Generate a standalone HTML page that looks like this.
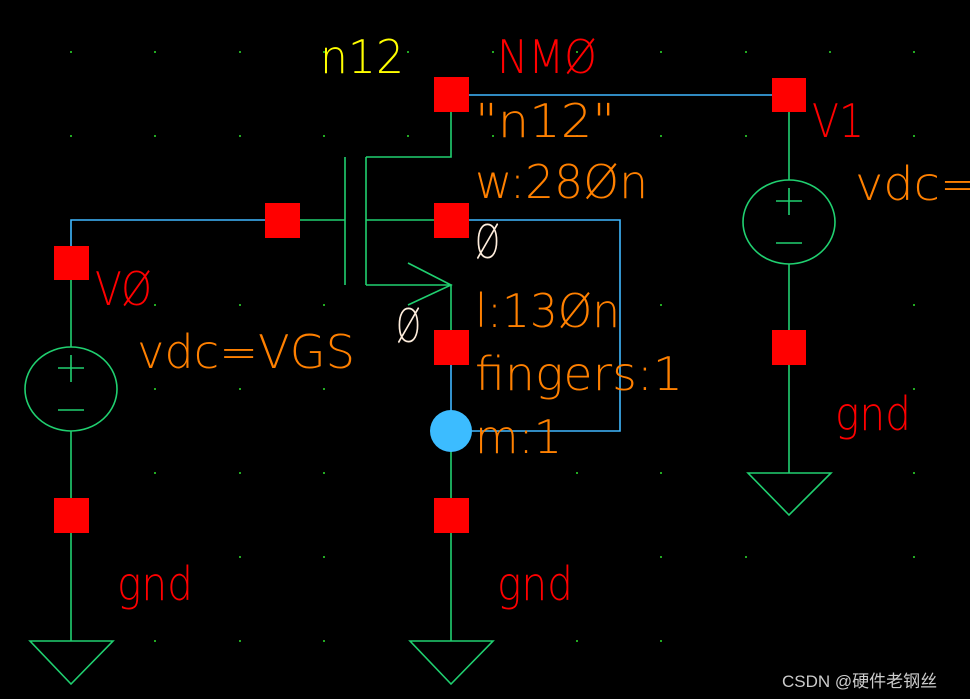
<!DOCTYPE html>
<html><head><style>html,body{margin:0;padding:0;background:#000;}svg{display:block}</style></head>
<body>
<svg width="970" height="699" viewBox="0 0 970 699" xmlns="http://www.w3.org/2000/svg">
<rect width="970" height="699" fill="#000"/>
<g fill="#2a2">
<rect x="70" y="51" width="2" height="2"/><rect x="154" y="51" width="2" height="2"/><rect x="239" y="51" width="2" height="2"/><rect x="323" y="51" width="2" height="2"/><rect x="407" y="51" width="2" height="2"/><rect x="492" y="51" width="2" height="2"/><rect x="576" y="51" width="2" height="2"/><rect x="660" y="51" width="2" height="2"/><rect x="745" y="51" width="2" height="2"/><rect x="829" y="51" width="2" height="2"/><rect x="913" y="51" width="2" height="2"/>
<rect x="70" y="135" width="2" height="2"/><rect x="154" y="135" width="2" height="2"/><rect x="239" y="135" width="2" height="2"/><rect x="323" y="135" width="2" height="2"/><rect x="407" y="135" width="2" height="2"/><rect x="492" y="135" width="2" height="2"/><rect x="576" y="135" width="2" height="2"/><rect x="660" y="135" width="2" height="2"/><rect x="745" y="135" width="2" height="2"/><rect x="913" y="135" width="2" height="2"/>
<rect x="154" y="304" width="2" height="2"/><rect x="239" y="304" width="2" height="2"/><rect x="323" y="304" width="2" height="2"/><rect x="660" y="304" width="2" height="2"/><rect x="913" y="304" width="2" height="2"/>
<rect x="154" y="388" width="2" height="2"/><rect x="239" y="388" width="2" height="2"/><rect x="323" y="388" width="2" height="2"/><rect x="660" y="388" width="2" height="2"/><rect x="913" y="388" width="2" height="2"/>
<rect x="154" y="472" width="2" height="2"/><rect x="239" y="472" width="2" height="2"/><rect x="323" y="472" width="2" height="2"/><rect x="576" y="472" width="2" height="2"/><rect x="660" y="472" width="2" height="2"/><rect x="913" y="472" width="2" height="2"/>
<rect x="239" y="556" width="2" height="2"/><rect x="323" y="556" width="2" height="2"/><rect x="660" y="556" width="2" height="2"/><rect x="745" y="556" width="2" height="2"/><rect x="913" y="556" width="2" height="2"/>
<rect x="154" y="640" width="2" height="2"/><rect x="239" y="640" width="2" height="2"/><rect x="323" y="640" width="2" height="2"/><rect x="576" y="640" width="2" height="2"/><rect x="660" y="640" width="2" height="2"/>
</g>
<g fill="none" stroke-width="1.6">
<g stroke="#40b8ff">
<path d="M71 246 V220 H265"/>
<path d="M469 95 H772"/>
<path d="M469 220 H620 V431 H451"/>
<path d="M451 365 V431"/>
</g>
<g stroke="#20d070">
<path d="M300 220 H345"/>
<path d="M345 157 V285"/>
<path d="M366 157 V285"/>
<path d="M366 157 H451 V112"/>
<path d="M366 220 H434"/>
<path d="M366 285 H451 V330"/>
<path d="M408 263 L451 285 L408 305"/>
<path d="M451 451 V498 M451 533 V641"/>
<path d="M410 641 H493 L451 684 Z"/>
<path d="M71 280 V347 M71 431 V498 M71 533 V641"/>
<ellipse cx="71" cy="389" rx="46" ry="42"/>
<path d="M58 368 H84 M71 355 V382 M58 410 H84"/>
<path d="M30 641 H113 L71 684 Z"/>
<path d="M789 112 V180 M789 264 V473"/>
<ellipse cx="789" cy="222" rx="46" ry="42"/>
<path d="M776 201 H802 M789 188 V215 M776 243 H802"/>
<path d="M748 473 H831 L789 515 Z"/>
</g>
</g>
<g fill="#ff0000">
<rect x="54" y="246" width="35" height="34"/>
<rect x="265" y="203" width="35" height="35"/>
<rect x="434" y="77" width="35" height="35"/>
<rect x="434" y="203" width="35" height="35"/>
<rect x="434" y="330" width="35" height="35"/>
<rect x="434" y="498" width="35" height="35"/>
<rect x="54" y="498" width="35" height="35"/>
<rect x="772" y="78" width="34" height="34"/>
<rect x="772" y="330" width="34" height="35"/>
</g>
<circle cx="451" cy="431" r="21" fill="#3cbcff"/>
<g font-family="DejaVu Sans ExtraLight, DejaVu Sans, Liberation Sans, sans-serif" font-size="46" font-weight="200">
<text x="320" y="73" fill="#ffff00" textLength="84" lengthAdjust="spacingAndGlyphs">n12</text>
<text x="497" y="73" fill="#ff0000" textLength="100" lengthAdjust="spacingAndGlyphs">NMØ</text>
<text x="475" y="137" fill="#ff8000" textLength="140" lengthAdjust="spacingAndGlyphs">"n12"</text>
<text x="475" y="198" fill="#ff8000" textLength="173" lengthAdjust="spacingAndGlyphs">w:28Øn</text>
<text x="475" y="258" fill="#ffeedd" textLength="25" lengthAdjust="spacingAndGlyphs">Ø</text>
<text x="396" y="342" fill="#ffeedd" textLength="25" lengthAdjust="spacingAndGlyphs">Ø</text>
<text x="475" y="327" fill="#ff8000" textLength="145" lengthAdjust="spacingAndGlyphs">l:13Øn</text>
<text x="475" y="390" fill="#ff8000" textLength="208" lengthAdjust="spacingAndGlyphs">fingers:1</text>
<text x="475" y="453" fill="#ff8000" textLength="87" lengthAdjust="spacingAndGlyphs">m:1</text>
<text x="95" y="305" fill="#ff0000" textLength="57" lengthAdjust="spacingAndGlyphs">VØ</text>
<text x="137" y="368" fill="#ff8000" textLength="218" lengthAdjust="spacingAndGlyphs">vdc=VGS</text>
<text x="812" y="137" fill="#ff0000" textLength="52" lengthAdjust="spacingAndGlyphs">V1</text>
<text x="855" y="200" fill="#ff8000" textLength="125" lengthAdjust="spacingAndGlyphs">vdc=</text>
<text x="117" y="600" fill="#ff0000" textLength="76" lengthAdjust="spacingAndGlyphs">gnd</text>
<text x="497" y="600" fill="#ff0000" textLength="76" lengthAdjust="spacingAndGlyphs">gnd</text>
<text x="835" y="430" fill="#ff0000" textLength="76" lengthAdjust="spacingAndGlyphs">gnd</text>
</g>
<text x="782" y="687" fill="#cccccc" font-family="Liberation Sans, Noto Sans CJK SC, sans-serif" font-size="17">CSDN @硬件老钢丝</text>
</svg>
</body></html>
